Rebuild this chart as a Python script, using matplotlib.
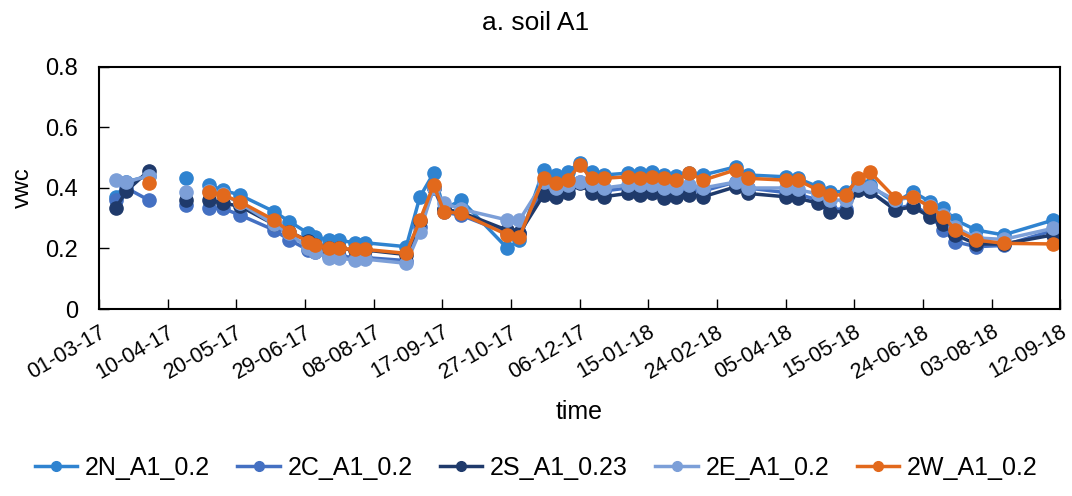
import numpy as np
import pandas as pd
import matplotlib
matplotlib.use("Agg")
import matplotlib.pyplot as plt
from matplotlib.lines import Line2D

plt.rcParams['font.family'] = ['Liberation Sans', 'DejaVu Sans']

# sampling dates (dd-mm-yy); NaN rows make the gaps in the lines
dates = ["11-03-17", "17-03-17", "30-03-17", "10-04-17", "21-04-17", "28-04-17",
         "04-05-17", "12-05-17", "22-05-17", "11-06-17", "20-06-17", "01-07-17",
         "05-07-17", "13-07-17", "19-07-17", "28-07-17", "03-08-17", "27-08-17",
         "04-09-17", "12-09-17", "18-09-17", "28-09-17", "25-10-17", "01-11-17",
         "15-11-17", "22-11-17", "29-11-17", "06-12-17", "13-12-17", "20-12-17",
         "03-01-18", "10-01-18", "17-01-18", "24-01-18", "31-01-18", "08-02-18",
         "16-02-18", "07-03-18", "14-03-18", "05-04-18", "12-04-18", "24-04-18",
         "01-05-18", "10-05-18", "17-05-18", "24-05-18", "08-06-18", "18-06-18",
         "28-06-18", "06-07-18", "13-07-18", "25-07-18", "10-08-18", "08-09-18"]

nan = np.nan
vwc_2N = [0.37, 0.42, 0.44, nan, 0.432, nan,
          0.41, 0.393, 0.377, 0.322, 0.289, 0.25,
          0.237, 0.228, 0.227, 0.219, 0.219, 0.206,
          0.371, 0.449, 0.33, 0.36, 0.2, 0.228,
          0.46, 0.443, 0.454, 0.482, 0.454, 0.443,
          0.449, 0.449, 0.454, 0.443, 0.44, 0.449,
          0.443, 0.47, 0.443, 0.437, 0.432, 0.404,
          0.388, 0.388, 0.42, 0.41, 0.35, 0.388,
          0.355, 0.333, 0.294, 0.261, 0.245, 0.294]
vwc_2C = [0.36, 0.40, 0.36, nan, 0.344, nan,
          0.333, 0.333, 0.311, 0.261, 0.228, 0.195,
          0.19, 0.175, 0.175, 0.17, 0.17, 0.16,
          0.27, 0.40, 0.32, 0.31, 0.25, 0.25,
          0.40, 0.39, 0.40, 0.42, 0.40, 0.39,
          0.40, 0.39, 0.40, 0.385, 0.39, 0.40,
          0.39, 0.42, 0.40, 0.385, 0.38, 0.36,
          0.33, 0.33, 0.40, 0.39, 0.33, 0.345,
          0.31, 0.261, 0.222, 0.206, 0.21, 0.26]
vwc_2S = [0.335, 0.39, 0.457, nan, 0.36, nan,
          0.36, 0.35, 0.34, 0.28, 0.255, 0.225,
          0.21, 0.2, 0.2, 0.195, 0.195, 0.18,
          0.29, 0.40, 0.33, 0.32, 0.26, 0.25,
          0.377, 0.371, 0.382, 0.415, 0.382, 0.371,
          0.382, 0.377, 0.382, 0.366, 0.371, 0.377,
          0.371, 0.404, 0.382, 0.371, 0.366, 0.35,
          0.322, 0.322, 0.393, 0.39, 0.327, 0.338,
          0.305, 0.28, 0.245, 0.215, 0.215, 0.245]
vwc_2E = [0.425, 0.42, 0.44, nan, 0.388, nan,
          0.39, 0.38, 0.35, 0.28, 0.25, 0.2,
          0.19, 0.168, 0.168, 0.162, 0.165, 0.151,
          0.256, 0.40, 0.35, 0.33, 0.294, 0.294,
          0.42, 0.40, 0.41, 0.42, 0.41, 0.40,
          0.41, 0.41, 0.41, 0.40, 0.40, 0.41,
          0.40, 0.42, 0.40, 0.40, 0.395, 0.38,
          0.36, 0.36, 0.41, 0.404, 0.36, 0.37,
          0.34, 0.31, 0.27, 0.235, 0.23, 0.267]
vwc_2W = [nan, nan, 0.415, nan, nan, nan,
          0.388, 0.377, 0.355, 0.294, 0.256, 0.222,
          0.211, 0.2, 0.2, 0.197, 0.197, 0.184,
          0.294, 0.41, 0.322, 0.316, 0.245, 0.239,
          0.432, 0.415, 0.426, 0.476, 0.432, 0.432,
          0.437, 0.432, 0.437, 0.432, 0.426, 0.449,
          0.426, 0.46, 0.432, 0.426, 0.426, 0.393,
          0.377, 0.377, 0.432, 0.454, 0.366, 0.371,
          0.338, 0.305, 0.261, 0.228, 0.217, 0.215]

series = ["2N_A1_0.2", "2C_A1_0.2", "2S_A1_0.23", "2E_A1_0.2", "2W_A1_0.2"]
colors = ["#2F83D0", "#4470C2", "#1F3A6B", "#7C9FD8", "#E2691C"]

tick_dates = ["01-03-17", "10-04-17", "20-05-17", "29-06-17", "08-08-17",
              "17-09-17", "27-10-17", "06-12-17", "15-01-18", "24-02-18",
              "05-04-18", "15-05-18", "24-06-18", "03-08-18", "12-09-18"]

x = pd.to_datetime(dates, format="%d-%m-%y")
ticks = pd.to_datetime(tick_dates, format="%d-%m-%y")

fig = plt.figure(figsize=(10.72, 4.96), dpi=100)
ax = fig.add_axes([0.0923, 0.377, 0.8967, 0.488])

for vals, name, c in zip([vwc_2N, vwc_2C, vwc_2S, vwc_2E, vwc_2W], series, colors):
    ax.plot(x, vals, color=c, lw=2.5, marker='o', ms=9.5, label=name)

ax.set_xlim(ticks[0], ticks[-1])
ax.set_ylim(0, 0.8)
ax.set_yticks([0, 0.2, 0.4, 0.6, 0.8])
ax.set_yticklabels(["0", "0.2", "0.4", "0.6", "0.8"], fontsize=17)
ax.set_xticks(ticks)
ax.set_xticklabels(tick_dates, rotation=30, ha='right', rotation_mode='anchor',
                   fontsize=15.5)
ax.tick_params(direction='in', length=7, width=1)
ax.tick_params(axis='y', pad=15)
ax.tick_params(axis='x', pad=9)
for s in ax.spines.values():
    s.set_linewidth(1.5)

ax.set_xlabel("time", fontsize=18, labelpad=12)
ax.set_ylabel("vwc", fontsize=17, labelpad=8)
fig.suptitle("a. soil A1", fontsize=19, y=0.978)

handles = [Line2D([0], [0], color=c, lw=2.5, marker='o', ms=7) for c in colors]
fig.legend(handles, series, loc='center', bbox_to_anchor=(0.5, 0.057), ncol=5,
           frameon=False, fontsize=18, handlelength=1.7, handletextpad=0.3,
           columnspacing=1.1)

fig.savefig("out.png", dpi=100)
